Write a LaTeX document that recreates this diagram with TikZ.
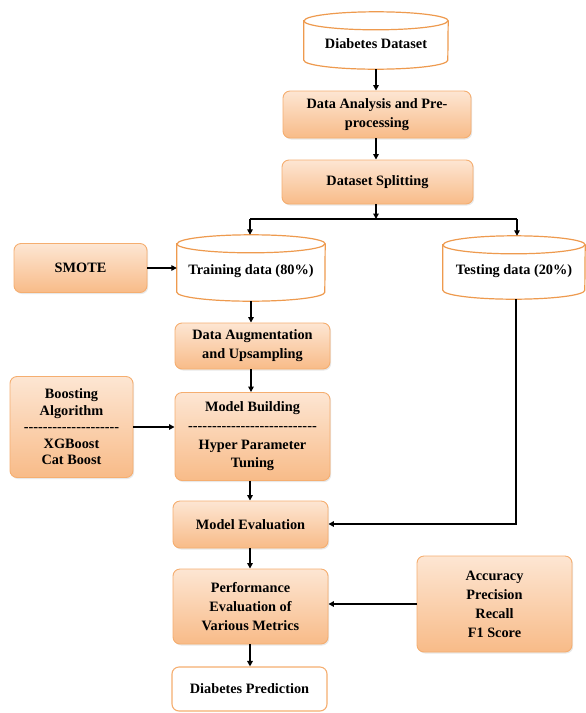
\documentclass[tikz,border=0pt]{standalone}
\usepackage{fontspec}
\setmainfont{Liberation Serif}
\newfontfamily\plainser{Liberation Serif}
\usetikzlibrary{arrows.meta,shadows}
\definecolor{boxtop}{HTML}{FDE6D3}
\definecolor{boxbot}{HTML}{F8BB88}
\definecolor{boxline}{HTML}{F5AE70}
\definecolor{cylline}{HTML}{EE9A4E}
\tikzset{
  txt/.style={font=\bfseries\fontsize{14.3}{19}\selectfont, align=center, inner sep=0pt},
  box/.style={txt, rectangle, rounded corners=7pt, draw=boxline, line width=0.9pt,
    top color=boxtop, bottom color=boxbot,
    drop shadow={opacity=0.18, shadow xshift=1.2pt, shadow yshift=-1.5pt}},
  whitebox/.style={txt, rectangle, rounded corners=7pt, draw=boxline, line width=1.1pt, fill=white},
  cylnode/.style={txt, rectangle, draw=none},
  cyl/.style={draw=cylline, line width=1.2pt},
  arr/.style={line width=1.9pt, -{Triangle[length=5.5pt,width=5.5pt]}},
  plainline/.style={line width=1.9pt},
}
\newcommand\cylinderof[2]{%
  \draw[cyl, fill=white] ([yshift=-9pt]#1.north west) -- ([yshift=9pt]#1.south west)
    arc[start angle=180, end angle=360, x radius=#2, y radius=9pt]
    -- ([yshift=-9pt]#1.north east)
    arc[start angle=0, end angle=180, x radius=#2, y radius=9pt] -- cycle;
  \draw[cyl] ([yshift=-9pt]#1.north west)
    arc[start angle=180, end angle=360, x radius=#2, y radius=9pt];
}
\newcommand\dashes[1]{{\plainser\bfseries\foreach\i in {1,...,#1}{-}}}
\begin{document}
\begin{tikzpicture}[x=1pt,y=-1pt]
\useasboundingbox (0,0) rectangle (586,713);

% cylinders (geometry)
\path (376,40.5) node[cylnode, minimum width=144pt, minimum height=57pt] (ds) {};
\path (251,268) node[cylnode, minimum width=148pt, minimum height=66pt] (train) {};
\path (514,267.5) node[cylnode, minimum width=142pt, minimum height=63pt] (test) {};
\cylinderof{ds}{72pt}
\cylinderof{train}{74pt}
\cylinderof{test}{71pt}
\node[txt] at (376,44) {Diabetes Dataset};
\node[txt] at (251,271) {Training data (80\%)};
\node[txt] at (514,271) {Testing data (20\%)};

% boxes
\node[box, minimum width=188pt, minimum height=47pt] (pre) at (377,114.5) {Data Analysis and Pre-\\processing};
\node[box, minimum width=191pt, minimum height=44pt] (split) at (377.5,182) {Dataset Splitting};
\node[box, minimum width=133pt, minimum height=49pt] (smote) at (80.5,268) {SMOTE};
\node[box, minimum width=155pt, minimum height=46pt] (aug) at (252.5,346) {Data Augmentation\\and Upsampling};
\node[box, minimum width=155pt, minimum height=88pt, font=\bfseries\fontsize{14.3}{18.7}\selectfont] (build) at (252.5,436.5) {Model Building\\\dashes{27}\\Hyper Parameter\\Tuning};
\node[box, minimum width=123pt, minimum height=101pt, font=\bfseries\fontsize{14.3}{16.5}\selectfont] (boost) at (71.5,427) {Boosting\\Algorithm\\\dashes{20}\\XGBoost\\Cat Boost};
\node[box, minimum width=155pt, minimum height=47pt] (eval) at (250.5,524.5) {Model Evaluation};
\node[box, minimum width=155pt, minimum height=75pt] (perf) at (250.5,606.5) {Performance\\Evaluation of\\Various Metrics};
\node[box, minimum width=155pt, minimum height=96pt] (metrics) at (494.5,604) {Accuracy\\Precision\\Recall\\F1 Score};
\node[whitebox, minimum width=155pt, minimum height=44pt] (pred) at (249.5,689) {Diabetes Prediction};

% connectors
\coordinate (j) at (376,219);
\coordinate (jl) at (250,219);
\coordinate (jr) at (517,219);
\coordinate (colA) at (251,0);
\coordinate (colB) at (250,0);
\coordinate (rowE) at (0,524);
\draw[arr] (ds.south) -- (ds.south |- pre.north);
\draw[arr] (pre.south -| j) -- (j |- split.north);
\draw[arr] (split.south -| j) -- (j);
\draw[plainline] (jl) -- (jr);
\draw[arr] (jl) -- (jl |- train.north);
\draw[arr] (jr) -- (jr |- test.north);
\draw[arr] (smote.east) -- (smote.east -| train.west);
\draw[arr] (train.south -| colA) -- (colA |- aug.north);
\draw[arr] (aug.south -| colA) -- (colA |- build.north);
\draw[arr] (boost.east) -- (boost.east -| build.west);
\draw[arr] (build.south -| colB) -- (colB |- eval.north);
\draw[arr] ([xshift=2pt]test.south) |- (eval.east |- rowE);
\draw[arr] (eval.south -| colB) -- (colB |- perf.north);
\draw[arr] (metrics.west) -- (metrics.west -| perf.east);
\draw[arr] (perf.south -| colB) -- (colB |- pred.north);
\end{tikzpicture}
\end{document}
